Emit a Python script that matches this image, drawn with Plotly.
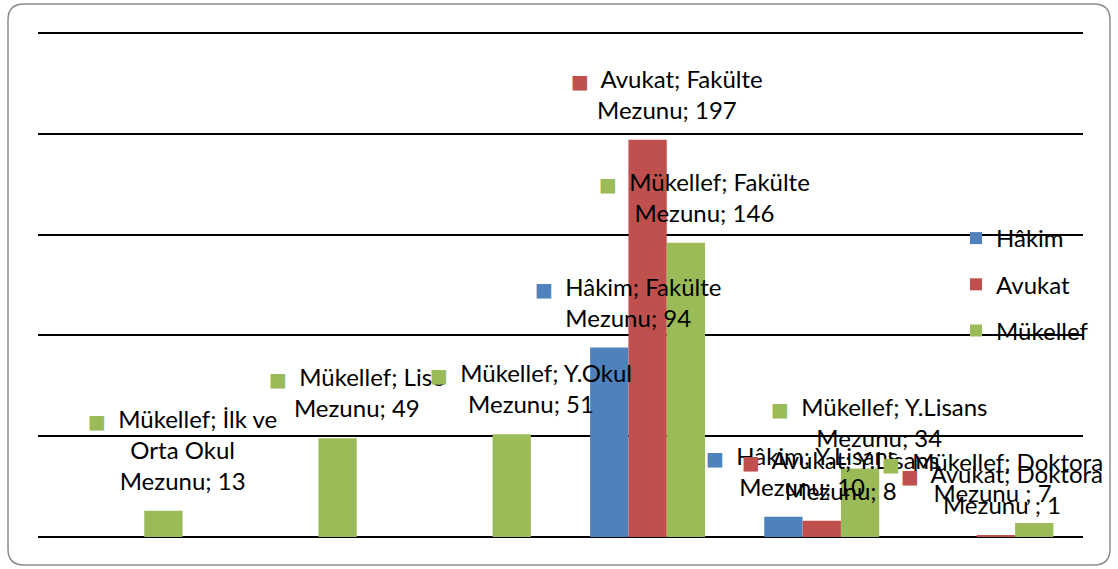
import plotly.graph_objects as go

# Data
categories = ["İlk ve Orta Okul Mezunu", "Lise Mezunu", "Y.Okul Mezunu",
              "Fakülte Mezunu", "Y.Lisans Mezunu", "Doktora Mezunu "]
cat_wrapped = ["İlk ve<br>Orta Okul<br>Mezunu", "Lise<br>Mezunu", "Y.Okul<br>Mezunu",
               "Fakülte<br>Mezunu", "Y.Lisans<br>Mezunu", "Doktora<br>Mezunu "]
hakim = [None, None, None, 94, 10, None]
avukat = [None, None, None, 197, 8, 1]
mukellef = [13, 49, 51, 146, 34, 7]

series = [("Hâkim", hakim, "#4F81BD"),
          ("Avukat", avukat, "#C0504D"),
          ("Mükellef", mukellef, "#9BBB59")]

FONT = "Lato, 'Open Sans', sans-serif"
W, H = 1118, 569
YMAX = 252
L, R, B = 38, 35, 32
PH = round(504 * YMAX / 250)
T = H - B - PH
PW = W - L - R


def px(x):
    return (x - L) / PW


def py(y):
    return (H - B - y) / PH


fig = go.Figure()
bargap = 0.34
bar_w = PW / len(categories) * (1 - bargap) / len(series)

for i, (name, vals, col) in enumerate(series):
    fig.add_trace(go.Bar(
        name=name, x=categories, y=vals, marker_color=col,
        marker_line_width=0, legendgroup=name,
    ))
    for j, v in enumerate(vals):
        if v is None:
            continue
        txt = (f"<span style='color:{col};font-size:19px;font-family:DejaVu Sans'>■</span>"
               f"  {name}; {cat_wrapped[j]}; {v}")
        lab = dict(y=v, yref="y", text=txt, showarrow=False, yanchor="bottom",
                   align="center", yshift=14,
                   font=dict(family=FONT, size=24, color="#000000"))
        if j == len(categories) - 1:
            # labels of the last group are pushed back inside the chart edge
            lab.update(x=px(1105), xref="paper", xanchor="right")
        else:
            lab.update(x=categories[j], xref="x", xanchor="center",
                       xshift=(i - 1) * bar_w + 19)
        fig.add_annotation(**lab)

# rounded outer frame
x0, x1, y0, y1, r = 8, 1110, 4, 565, 16
path = (f"M{px(x0 + r)},{py(y0)} L{px(x1 - r)},{py(y0)} Q{px(x1)},{py(y0)} {px(x1)},{py(y0 + r)} "
        f"L{px(x1)},{py(y1 - r)} Q{px(x1)},{py(y1)} {px(x1 - r)},{py(y1)} "
        f"L{px(x0 + r)},{py(y1)} Q{px(x0)},{py(y1)} {px(x0)},{py(y1 - r)} "
        f"L{px(x0)},{py(y0 + r)} Q{px(x0)},{py(y0)} {px(x0 + r)},{py(y0)} Z")
fig.add_shape(type="path", path=path, xref="paper", yref="paper",
              line=dict(color="#8c8c8c", width=1.5), layer="below")

fig.update_layout(
    width=W, height=H,
    margin=dict(l=L, r=R, t=T, b=B),
    paper_bgcolor="white", plot_bgcolor="white",
    barmode="group", bargap=bargap, bargroupgap=0,
    showlegend=True,
    legend=dict(x=px(956), y=py(216), xanchor="left", yanchor="top",
                bgcolor="rgba(0,0,0,0)", tracegroupgap=12, traceorder="grouped",
                font=dict(family=FONT, size=24, color="#000000")),
    font=dict(family=FONT),
)
fig.update_xaxes(range=[-0.5, len(categories) - 0.5], showticklabels=False,
                 ticks="", showgrid=False, showline=False)
fig.update_yaxes(range=[0, YMAX], tickvals=[50, 100, 150, 200, 250],
                 showticklabels=False, ticks="",
                 showgrid=True, gridcolor="#000000", gridwidth=1.5,
                 zeroline=True, zerolinecolor="#000000", zerolinewidth=1.5,
                 showline=False)

fig.write_html("out.html", config={"displayModeBar": False},
               post_script="document.body.style.margin='0';")
